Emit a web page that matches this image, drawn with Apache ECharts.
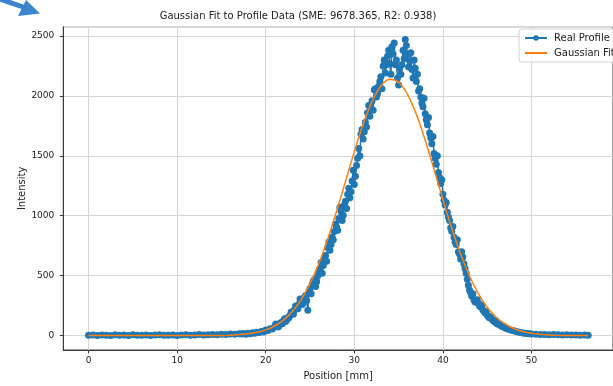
<!DOCTYPE html>
<html>
<head>
<meta charset="utf-8">
<script src="https://cdn.jsdelivr.net/npm/echarts@6/dist/echarts.min.js"></script>
<style>html,body{margin:0;padding:0;background:#fff;}#c{width:613px;height:386px;}</style>
</head>
<body>
<div id="c"></div>
<script>
// Real profile: positions (mm) and intensities
const profilePos = [
  0,0.5,1,1.5,2,2.5,3,3.5,4,4.5,5,5.5,6,6.5,7,7.5,8,8.5,9,9.5,10,10.5,11,11.5,12,12.5,13,13.5,14,14.5,15,15.5,16,16.5,17,
  17.25,17.5,17.75,18,18.25,18.5,18.75,19,19.25,19.5,19.75,20,20.25,20.5,20.75,
  21,21.125,21.25,21.375,21.5,21.625,21.75,21.875,
  22,22.125,22.25,22.375,22.5,22.625,22.75,22.875,
  23,23.125,23.25,23.375,23.5,23.625,23.75,23.875,
  24,24.125,24.25,24.375,24.5,24.625,24.75,24.875,
  25,25.125,25.25,25.375,25.5,25.625,25.75,25.875,
  26,26.125,26.25,26.375,26.5,26.625,26.75,26.875,
  27,27.125,27.25,27.375,27.5,27.625,27.75,27.875,
  28,28.125,28.25,28.375,28.5,28.625,28.75,28.875,
  29,29.125,29.25,29.375,29.5,29.625,29.75,29.875,
  30,30.125,30.25,30.375,30.5,30.625,30.75,30.875,
  31,31.125,31.25,31.375,31.5,31.625,31.75,31.875,
  32,32.125,32.25,32.375,32.5,32.625,32.75,32.875,
  33,33.125,33.25,33.375,33.5,33.625,33.75,33.875,
  34,34.125,34.25,34.375,34.5,34.625,34.75,34.875,
  35,35.125,35.25,35.375,35.5,35.625,35.75,35.875,
  36,36.125,36.25,36.375,36.5,36.625,36.75,36.875,
  37,37.125,37.25,37.375,37.5,37.625,37.75,37.875,
  38,38.125,38.25,38.375,38.5,38.625,38.75,38.875,
  39,39.125,39.25,39.375,39.5,39.625,39.75,39.875,
  40,40.125,40.25,40.375,40.5,40.625,40.75,40.875,
  41,41.125,41.25,41.375,41.5,41.625,41.75,41.875,
  42,42.125,42.25,42.375,42.5,42.625,42.75,42.875,
  43,43.125,43.25,43.375,43.5,43.625,43.75,43.875,
  44,44.125,44.25,44.375,44.5,44.625,44.75,44.875,
  45,45.125,45.25,45.375,45.5,45.625,45.75,45.875,
  46,46.125,46.25,46.375,46.5,46.625,46.75,46.875,
  47,47.25,47.5,47.75,48,48.25,48.5,48.75,49,49.25,49.5,49.75,50,
  50.5,51,51.5,52,52.5,53,53.5,54,54.5,55,55.5,56,56.4
];
const profileVal = [
  3,5,2,6,4,1,7,3,5,2,8,4,3,6,2,5,7,3,4,6,2,5,8,4,6,9,5,7,10,8,12,9,14,11,16,
  14,18,12,20,16,24,19,28,25,35,31,46,42,58,55,
  74,96,88,72,81,104,110,98,
  124,140,118,132,152,148,170,196,
  188,178,215,248,236,224,262,305,
  298,260,276,318,335,290,212,370,
  392,350,430,455,468,410,452,500,
  538,560,610,520,585,640,668,620,
  735,780,712,760,820,800,868,930,
  905,880,978,1070,1040,960,1005,1090,
  1120,1060,1180,1230,1150,1200,1290,1380,
  1260,1330,1420,1480,1560,1500,1680,1720,
  1640,1700,1780,1740,1860,1920,1830,1900,
  1960,1880,2050,2060,1990,2020,2080,2120,
  2160,2060,2250,2300,2190,2260,2330,2380,
  2270,2180,2410,2350,2440,2260,2300,2150,
  2090,2230,2180,2260,2380,2310,2470,2420,
  2350,2240,2290,2360,2220,2150,2300,2230,
  2120,2180,2040,2060,1990,1940,1910,1980,
  1850,1800,1760,1820,1690,1650,1600,1660,
  1520,1480,1430,1500,1360,1320,1270,1300,
  1180,1130,1090,1110,1030,990,960,900,
  870,910,820,780,760,800,700,680,
  640,700,655,600,560,520,470,420,
  380,360,330,350,300,280,290,300,
  270,250,240,255,215,205,190,200,
  172,160,150,155,138,130,120,125,
  108,100,95,98,86,80,74,78,
  66,58,52,44,40,34,30,26,22,20,17,15,13,
  12,10,9,8,10,7,6,8,5,6,4,5,3
];
// Gaussian fit curve values
const fitPos = [0,5,10,14,16,18,19,20,21,22,23,24,25,26,27,28,29,30,31,32,33,34,35,36,37,38,39,40,41,42,43,44,45,46,47,48,49,50,52,54,56.4];
const fitVal = [0,0,0,1,4,15,28,48,80,129,201,301,434,602,806,1037,1285,1535,1764,1953,2083,2138,2114,2013,1846,1630,1386,1135,895,680,497,350,237,155,97,59,34,19,5,1,0];

const titleText = 'Gaussian Fit to Profile Data (SME: 9678.365, R2: 0.938)';
const xName = 'Position [mm]';
const yName = 'Intensity';
const seriesNames = ['Real Profile', 'Gaussian Fit'];

const font = 'DejaVu Sans';
const chart = echarts.init(document.getElementById('c'), null, {renderer: 'canvas'});
const axisColor = '#3a3a3a';
const plain = v => String(v);
chart.setOption({
  animation: false,
  backgroundColor: '#fff',
  title: {
    text: titleText, left: 293, top: 6, textAlign: 'center',
    textStyle: {fontFamily: font, fontSize: 10, fontWeight: 'normal', color: '#222'}
  },
  grid: {left: 63.3, top: 26.7, width: 560.3, height: 326, show: true, borderColor: axisColor, borderWidth: 1, containLabel: false},
  legend: {
    orient: 'vertical', left: 519, top: 29, padding: [4, 6, 4, 5],
    itemWidth: 22, itemHeight: 7, itemGap: 5,
    backgroundColor: 'rgba(255,255,255,0.85)', borderColor: '#d0d0d0', borderWidth: 1, borderRadius: 3,
    textStyle: {fontFamily: font, fontSize: 10, color: '#222', padding: [0, 0, 0, 2]},
    data: [
      {name: seriesNames[0]},
      {name: seriesNames[1], itemStyle: {opacity: 0}}
    ]
  },
  xAxis: {
    type: 'value', min: -2.85, max: 59.2, splitNumber: 6,
    name: xName, nameLocation: 'middle', nameGap: 21, nameMoveOverlap: false,
    nameTextStyle: {fontFamily: font, fontSize: 10, color: '#222'},
    axisLine: {show: true, onZero: false, lineStyle: {color: axisColor, width: 1}},
    axisTick: {show: true, length: 3.5, lineStyle: {color: axisColor}},
    axisLabel: {fontFamily: font, fontSize: 9, color: '#222', margin: 6, showMinLabel: false, showMaxLabel: false, formatter: plain},
    splitLine: {show: true, lineStyle: {color: '#d6d6d6', width: 1}}
  },
  yAxis: {
    type: 'value', min: -120, max: 2577,
    name: yName, nameLocation: 'middle', nameGap: 36, nameRotate: 90, nameMoveOverlap: false,
    nameTextStyle: {fontFamily: font, fontSize: 10, color: '#222'},
    axisLine: {show: true, onZero: false, lineStyle: {color: axisColor, width: 1}},
    axisTick: {show: true, length: 3.5, lineStyle: {color: axisColor}},
    axisLabel: {fontFamily: font, fontSize: 9, color: '#222', margin: 9, showMinLabel: false, showMaxLabel: false, formatter: plain},
    splitLine: {show: true, lineStyle: {color: '#d6d6d6', width: 1}}
  },
  series: [
    {
      name: seriesNames[0], type: 'line',
      data: profilePos.map((x, i) => [x, profileVal[i]]),
      symbol: 'circle', symbolSize: 7, showSymbol: true,
      lineStyle: {color: '#1f77b4', width: 1.5},
      itemStyle: {color: '#1f77b4'},
      z: 2
    },
    {
      name: seriesNames[1], type: 'line',
      data: fitPos.map((x, i) => [x, fitVal[i]]),
      symbol: 'circle', showSymbol: false, smooth: 0.35,
      lineStyle: {color: '#ff7f0e', width: 1.5},
      itemStyle: {color: '#ff7f0e'},
      z: 3
    }
  ],
  graphic: [
    {type: 'line', shape: {x1: -3, y1: -2, x2: 26, y2: 8}, style: {stroke: '#3b82d0', lineWidth: 5}},
    {type: 'polygon', shape: {points: [[26, 0], [40, 13.5], [18, 16]]}, style: {fill: '#3b82d0'}}
  ]
});
</script>
</body>
</html>
